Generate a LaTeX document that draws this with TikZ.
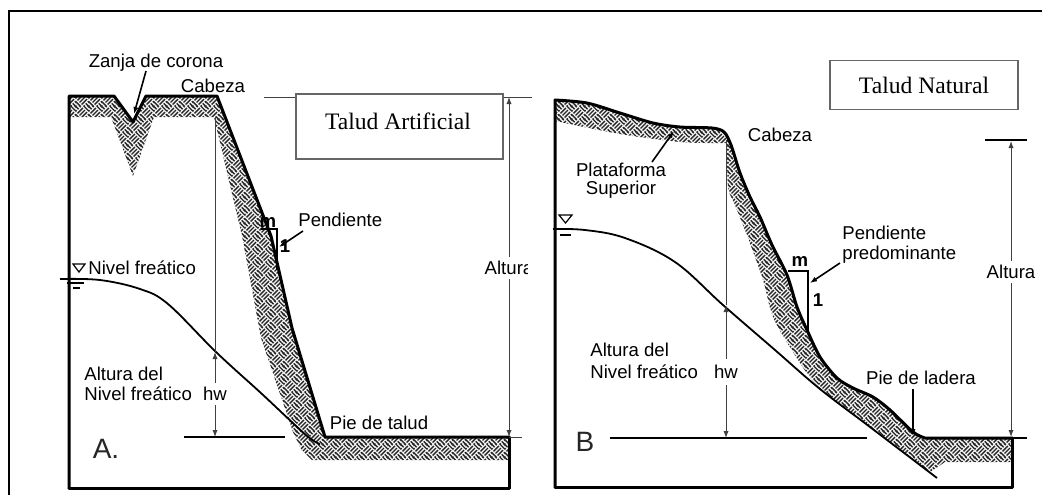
\documentclass[tikz,border=0pt]{standalone}
\usepackage{fontspec}
\setmainfont{Liberation Sans}
\newfontfamily\serifbox{Liberation Serif}
\usetikzlibrary{arrows.meta,patterns}
\newcommand\wvs[6]{\pgfpathmoveto{\pgfpointadd{\pgfqpoint{#1pt}{#2pt}}{\pgfqpoint{#5pt}{#6pt}}}\pgfpathlineto{\pgfpointadd{\pgfqpoint{#3pt}{#4pt}}{\pgfqpoint{#5pt}{#6pt}}}}
\newcommand\wvNW[2]{\wvs{0.33}{-2.45}{-2.45}{0.33}{#1}{#2}\wvs{1.39}{-1.39}{-1.39}{1.39}{#1}{#2}\wvs{2.45}{-0.33}{-0.33}{2.45}{#1}{#2}}
\pgfdeclarepatternformonly{weave}{\pgfqpoint{0pt}{0pt}}{\pgfqpoint{6.36pt}{6.36pt}}{\pgfqpoint{6.36pt}{6.36pt}}{%
 \pgfsetlinewidth{0.7pt}%
 \wvs{2.85}{0.73}{5.63}{3.51}{0}{0}\wvs{1.79}{1.79}{4.57}{4.57}{0}{0}\wvs{0.73}{2.85}{3.51}{5.63}{0}{0}%
 \wvNW{0}{0}\wvNW{6.36}{0}\wvNW{0}{6.36}\wvNW{6.36}{6.36}%
 \pgfusepath{stroke}%
}
\begin{document}
\begin{tikzpicture}[x=0.5pt,y=-0.5pt,
  ground/.style={line width=1.5pt, line join=round, line cap=round},
  wline/.style={line width=0.9pt},
  dimline/.style={line width=0.5pt, black!75},
  arr/.style={-{Latex[length=3.5pt,width=2.6pt]}},
  lbl/.style={font=\fontsize{9.3}{10}\selectfont, inner sep=0pt},
  dimlbl/.style={font=\fontsize{9.3}{10}\selectfont, inner sep=2pt},
  biglbl/.style={font=\fontsize{14}{16}\selectfont, inner sep=0pt, black!85},
  tbox/.style={draw=black!60, line width=0.9pt, fill=white},
  ttext/.style={font=\serifbox\fontsize{11.8}{14}\selectfont, inner sep=0pt},
  hatch/.style={fill=gray!8, postaction={pattern=weave, pattern color=black!85}},
]
\useasboundingbox (0,0) rectangle (1042,495);
\fill[white] (0,0) rectangle (1042,495);

% ================= LEFT PANEL =================
\path[hatch] (69,96) -- (114,96) -- (133,122) -- (146,96) -- (217,96) -- (271,236) -- (292,328) -- (325,437)
  -- (509,437) -- (509,460) -- (312,460) -- (301,449) -- (293,432) -- (261,338) -- (242,236) -- (214,117)
  -- (154,117) -- (133,176) -- (111,117) -- (69,117) -- cycle;
\draw[wline] plot[smooth, tension=0.6] coordinates {(60,279) (100,280) (140,289) (168,304) (216,352) (262,394) (306,435) (320,444)};
\draw[ground] (69,488) -- (69,96) -- (114,96) -- (133,122) -- (146,96) -- (217,96) -- (271,236) -- (292,328) -- (325,437) -- (509,437);
\draw[ground] (69,488) -- (509,488) -- (509,437);
\draw[dimline] (509,437) -- (522,437);
% water table symbol
\draw[line width=0.6pt] (73,264) -- (85,264) -- (79,272) -- cycle;
\draw[line width=0.9pt] (67,283) -- (84,283);
\draw[line width=0.6pt] (73,288) -- (80,288);
\node[lbl, anchor=west] (nfA) at (88,268) {Nivel freático};
% base line and hw
\draw[line width=1pt] (184,437) -- (285,437);
\coordinate (wtA) at (215,352);
\coordinate (baseA) at (215,437);
\draw[dimline] (215,117) -- (wtA);
\node[dimlbl] (hwA) at (215,394) {hw};
\draw[dimline, arr] (hwA.north) -- (wtA);
\draw[dimline, arr] (hwA.south) -- (baseA);
\node[lbl, anchor=west, align=left] (ahA) at (84,384) {Altura del\\Nivel freático};
\node[biglbl] (lA) at (106,449) {A.};
\node[lbl] (pieA) at (379,423) {Pie de talud};
% crown trench
\node[lbl] (zanja) at (156,63) {Zanja de corona};
\coordinate (zanjaT) at (134,114);
\draw[line width=0.8pt, arr] (146,71) -- (zanjaT);
\node[lbl] (cabA) at (213,86) {Cabeza};
% slope mark
\draw[line width=0.7pt] (261,229) -- (277,229) -- (277,270);
\node[lbl, font=\fontsize{9.3}{10}\selectfont\bfseries] (mA) at (268,222) {m};
\node[lbl, font=\fontsize{9.3}{10}\selectfont\bfseries] (oneA) at (285,246) {1};
\node[lbl, anchor=west] (pendA) at (298,220) {Pendiente};
\draw[line width=0.8pt, arr] (303,231) -- (279,247);
% Altura (left)
\coordinate (topA) at (509,97);
\coordinate (botA) at (509,437);
\node[dimlbl] (altA) at (509,268) {Altura};
\draw[dimline, arr] (altA.north) -- (topA);
\draw[dimline, arr] (altA.south) -- (botA);

% ================= RIGHT PANEL =================
\fill[white] (528,12) rectangle (1042,495);
\draw[dimline] (264,97) -- (532,97);
\node[tbox, minimum width=103.5pt, minimum height=32.5pt] (boxA) at (399.5,126.5) {};
\node[ttext] (boxAt) at (398,121) {Talud Artificial};

\path[hatch] plot[smooth, tension=0.5] coordinates {(555,100) (587,103) (620,113) (653,123) (680,127) (712,128) (724,132) (731,145) (740,173) (750,197) (760,217) (772,245) (787,275) (797,307) (807,330) (820,357) (837,378) (853,388) (873,397) (890,410) (913,432) (925,438)}
  -- (1012,438) -- (1012,462) -- (945,462)
  -- plot[smooth, tension=0.5] coordinates {(930,472) (870,427) (820,389) (793,352) (773,317) (763,280) (748,238) (735,205) (728,187) (727,143)}
  -- plot[smooth, tension=0.5] coordinates {(715,143) (680,142) (620,134) (555,121)} -- cycle;
\draw[wline] plot[smooth, tension=0.6] coordinates {(553,229) (585,230) (625,238) (675,262) (723,305) (775,350) (820,389) (870,427) (937,478)};
\draw[ground] (555,487) -- plot[smooth, tension=0.5] coordinates {(555,100) (587,103) (620,113) (653,123) (680,127) (712,128) (724,132) (731,145) (740,173) (750,197) (760,217) (772,245) (787,275) (797,307) (807,330) (820,357) (837,378) (853,388) (873,397) (890,410) (913,432) (925,438)} -- (1012,438);
\draw[ground] (555,487) -- (1012,487) -- (1012,438);
\draw[line width=1pt] (1012,438) -- (1027,438);
% water symbol
\draw[line width=0.6pt] (559,215) -- (572,215) -- (565.5,223) -- cycle;
\draw[line width=1.2pt] (560,235) -- (571,235);
% base and hw
\draw[line width=1pt] (610,438) -- (867,438);
\node[biglbl] (lB) at (585,442) {B};
\coordinate (wtB) at (726,305);
\coordinate (baseB) at (726,438);
\draw[dimline] (726,140) -- (wtB);
\node[dimlbl, inner sep=3pt] (hwB) at (726,372) {hw};
\draw[dimline, arr] (hwB.north) -- (wtB);
\draw[dimline, arr] (hwB.south) -- (baseB);
\node[lbl, anchor=west, align=left, font=\fontsize{9.3}{11}\selectfont] (ahB) at (590,361) {Altura del\\Nivel freático};
% labels
\node[lbl] (cabB) at (780,135) {Cabeza};
\node[lbl, align=center, font=\fontsize{9.3}{9}\selectfont] (plat) at (621,181) {Plataforma\\Superior};
\draw[line width=0.8pt, arr] (652,162) -- (674,131);
\node[lbl, anchor=west, align=left] (pendB) at (842,245) {Pendiente\\predominante};
\draw[line width=0.7pt] (788,271) -- (808,271) -- (808,330);
\node[lbl, font=\fontsize{9.3}{10}\selectfont\bfseries] (mB) at (800,261) {m};
\node[lbl, font=\fontsize{9.3}{10}\selectfont\bfseries] (oneB) at (818,300) {1};
\draw[line width=0.8pt, arr] (840,263) -- (810,283);
\node[lbl] (pieB) at (921,378) {Pie de ladera};
\coordinate (pieBt) at (913,436);
\draw[line width=0.8pt, arr] (913,389) -- (pieBt);
% Altura (right)
\draw[line width=1.2pt] (985,140) -- (1027,140);
\coordinate (topB) at (1011,141);
\coordinate (botB) at (1011,437);
\node[dimlbl] (altB) at (1011,272) {Altura};
\draw[dimline, arr] (altB.north) -- (topB);
\draw[dimline, arr] (altB.south) -- (botB);
\node[tbox, minimum width=94pt, minimum height=24.5pt, font=\serifbox\fontsize{11.8}{14}\selectfont] (boxB) at (924,85) {Talud Natural};

% outer frame
\draw[line width=1.1pt] (9,495) -- (9,11) -- (1042,11);
\end{tikzpicture}
\end{document}
